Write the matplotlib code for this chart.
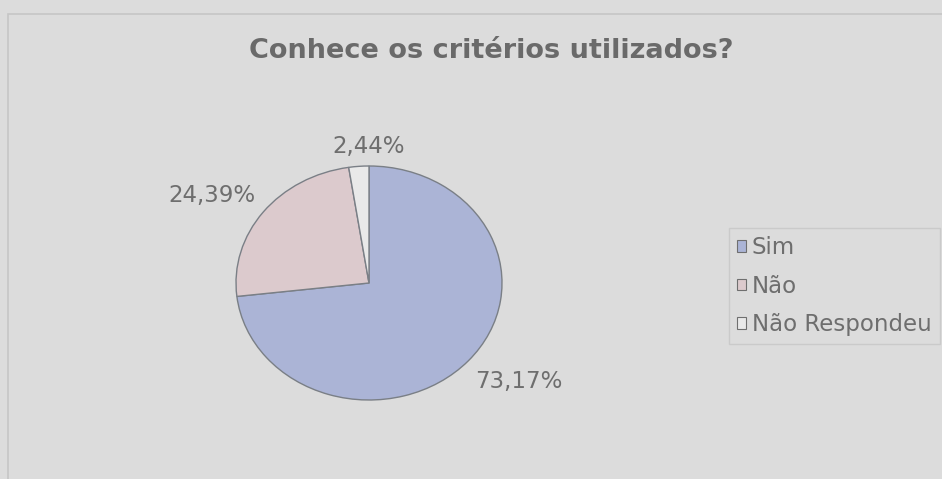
import numpy as np
import matplotlib.pyplot as plt
from matplotlib.patches import Rectangle

plt.rcParams['font.family'] = ['DejaVu Sans']

categories = ['Sim', 'Não', 'Não Respondeu']
values = [73.17, 24.39, 2.44]
colors = ['#abb4d6', '#dccacd', '#e9e9e9']

W, H = 942, 479
fig = plt.figure(figsize=(W / 100, H / 100), dpi=100)
fig.patch.set_facecolor('#dcdcdc')

# chart frame
fig.patches.append(Rectangle((8 / W, -0.1), 1.2, 1 - 14 / H + 0.1,
                             transform=fig.transFigure, fill=False,
                             edgecolor='#c6c6c6', linewidth=1.2))

fig.text(491 / W, 1 - 51 / H, 'Conhece os critérios utilizados?',
         ha='center', va='center', fontsize=19.5, fontweight='bold',
         color='#6a6a6a')

# pie axes: slightly wider than tall
cx, cy, rx, ry = 369, 283, 133, 117
ax = fig.add_axes([(cx - 1.2 * rx) / W, (H - cy - 1.2 * ry) / H,
                   2.4 * rx / W, 2.4 * ry / H])
ax.axis('off')

wedges, _ = ax.pie(values, colors=colors, startangle=90, counterclock=False,
                   wedgeprops=dict(edgecolor='#7a7f86', linewidth=1.0))
ax.set_aspect('auto')
ax.set_xlim(-1.2, 1.2)
ax.set_ylim(-1.2, 1.2)

for w, v in zip(wedges, values):
    mid = np.deg2rad((w.theta1 + w.theta2) / 2)
    c, s = np.cos(mid), np.sin(mid)
    if abs(c) > 0.1:
        ha = 'left' if c > 0 else 'right'
        x = 1.07 * c
    else:
        ha = 'center'
        x = 0.0
    va = 'bottom' if s > 0 else 'top'
    y = 1.07 * s if s > 0 else 1.12 * s
    txt = f'{v:.2f}'.replace('.', ',') + '%'
    ax.text(x, y, txt, ha=ha, va=va, fontsize=16.5, color='#6e6e6e')

handles = [Rectangle((0, 0), 1, 1, facecolor=c, edgecolor='#6f6f6f', linewidth=0.8)
           for c in colors]
leg = fig.legend(handles, categories, loc='upper left',
                 bbox_to_anchor=(729 / W, 1 - 228 / H), frameon=True,
                 fancybox=False, fontsize=16.5, handlelength=0.4,
                 handleheight=0.4, handletextpad=0.25, labelspacing=0.68,
                 borderpad=0.35, borderaxespad=0, labelcolor='#6e6e6e')
leg.get_frame().set_facecolor('#dcdcdc')
leg.get_frame().set_edgecolor('#c6c6c6')

fig.savefig('out.png', dpi=100, facecolor=fig.get_facecolor())
